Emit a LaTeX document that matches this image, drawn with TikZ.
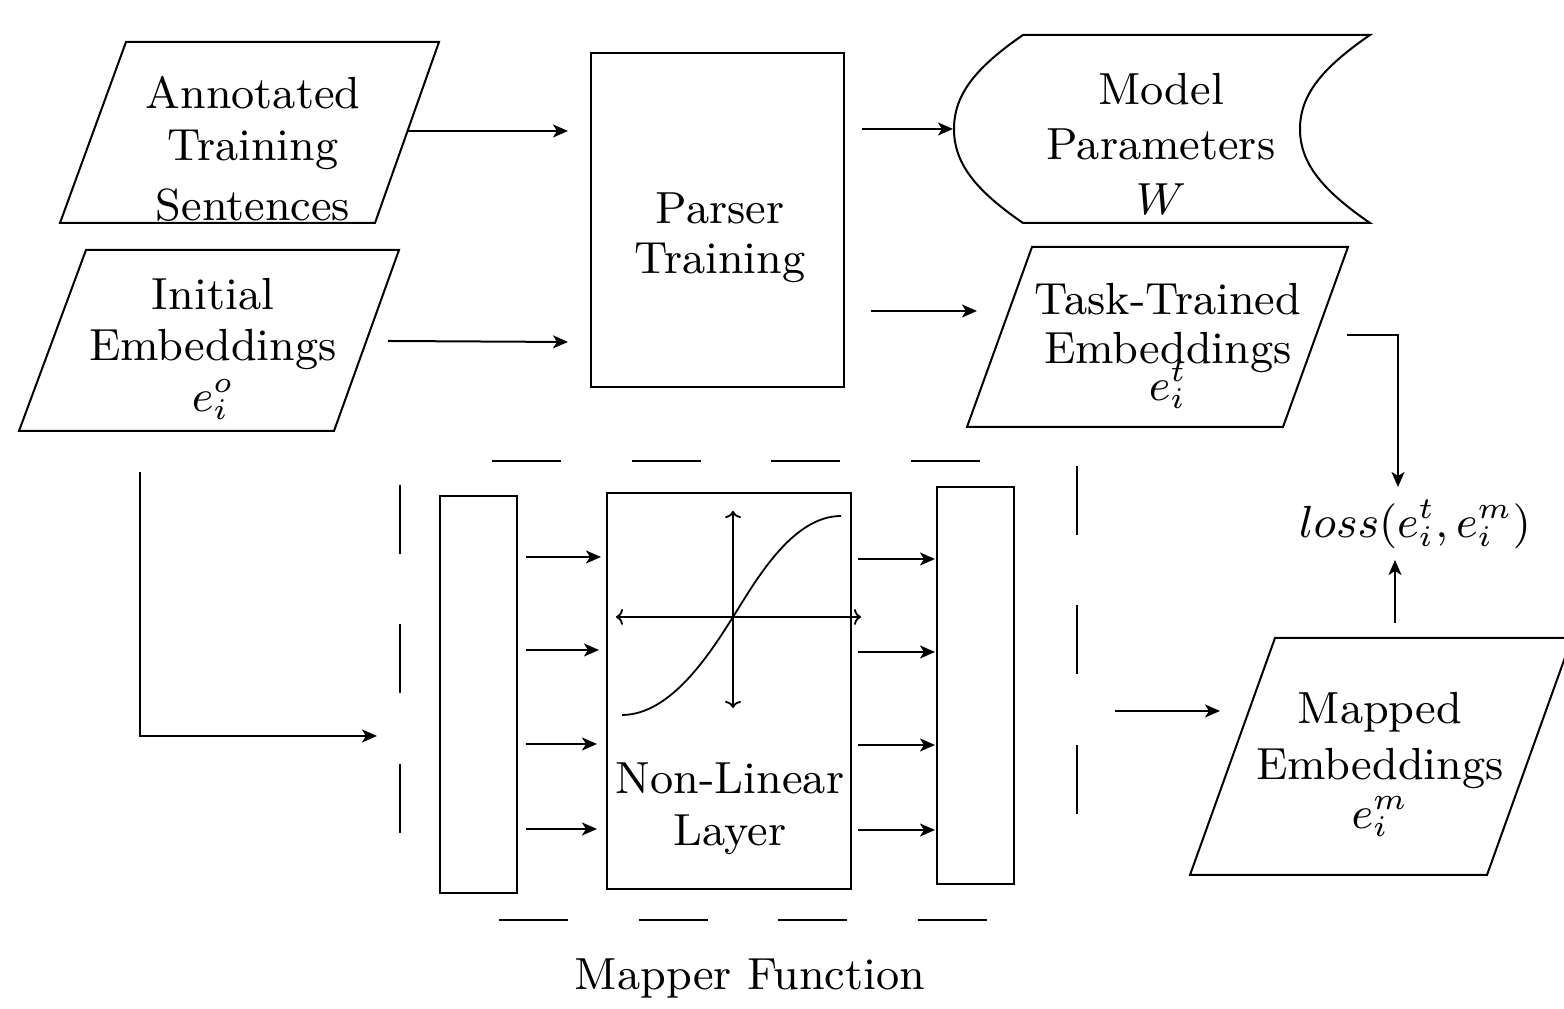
\documentclass[tikz,border=0pt]{standalone}
\usepackage{fontspec}
\usetikzlibrary{arrows.meta}

\begin{document}
\begin{tikzpicture}[x=0.2pt,y=-0.2pt,
  every node/.style={font=\fontsize{9}{10.2}\selectfont, inner sep=0pt, align=center},
  box/.style={draw, line width=0.4pt},
  arr/.style={-{Stealth[length=3pt,width=2.6pt,inset=0.8pt]}, line width=0.4pt},
  axis/.style={{To[length=1.4pt,width=3.2pt]}-{To[length=1.4pt,width=3.2pt]}, line width=0.36pt},
  mapdash/.style={dash pattern=on 13.8pt off 14.1pt, line width=0.44pt}]
\clip (0,0) rectangle (1564,1009);
\fill[white] (0,0) rectangle (1564,1009);

% ---- input data (parallelograms) ----
\draw[box] (126,42) -- (439,42) -- (375,223) -- (60,223) -- cycle;
\node[anchor=north] (annTxt) at (253,75) {Annotated\\[0.2pt]Training\\[1.8pt]Sentences};

\draw[box] (86,250) -- (399,250) -- (334,431) -- (19,431) -- cycle;
\node[anchor=north] (iniTxt) at (213,277) {Initial\\Embeddings\\$e_i^o$};

% ---- parser training ----
\draw[box] (591,53) rectangle (844,387);
\node[anchor=north] (parTxt) at (720,192) {Parser\\[-0.2pt]Training};

% ---- model parameters (stored data shape) ----
\draw[box] (1023,35) -- (1370,35)
  .. controls (1322,68) and (1300,95) .. (1300,129)
  .. controls (1300,163) and (1322,190) .. (1370,223)
  -- (1023,223)
  .. controls (975,190) and (954,163) .. (954,129)
  .. controls (954,95) and (975,68) .. (1023,35) -- cycle;
\node[anchor=north] (modTxt) at (1161,72) {Model\\[0.8pt]Parameters\\[0.8pt]$W$};

% ---- task-trained embeddings ----
\draw[box] (1032,247) -- (1348,247) -- (1283,427) -- (967,427) -- cycle;
\node[anchor=north] (taskTxt) at (1168,282) {Task-Trained\\[-0.4pt]Embeddings\\[-2.8pt]$e_i^t$};

% ---- loss ----
\node[anchor=base] (loss) at (1415,538) {$loss(e_i^t,e_i^m)$};

% ---- mapped embeddings ----
\draw[box] (1275,638) -- (1572,638) -- (1487,875) -- (1190,875) -- cycle;
\node[anchor=north] (mapTxt) at (1380,691) {Mapped\\[1pt]Embeddings\\[-0.4pt]$e_i^m$};

% ---- mapper function ----
\draw[mapdash] (492,461) -- (980,461);
\draw[mapdash] (499,920) -- (987,920);
\draw[mapdash] (400,485) -- (400,833);
\draw[mapdash] (1077,466) -- (1077,816);
\node[anchor=base] (mapperTxt) at (750,990) {Mapper Function};

\draw[box] (440,496) rectangle (517,893);
\draw[box] (607,493) rectangle (851,889);
\draw[box] (937,487) rectangle (1014,884);
\node[anchor=north] (nlTxt) at (730,762) {Non-Linear\\[0.2pt]Layer};

% sigmoid plot
\draw[axis] (616,617) -- (861,617);
\draw[axis] (733,511) -- (733,708);
\draw[line width=0.36pt] (622,715) .. controls (672,715) and (712,650) .. (733,617)
  .. controls (754,584) and (791,516) .. (841,516);

% layer-to-layer arrows
\foreach \y/\e [count=\k] in {557/601,650/599,744/597,829/597} {
  \coordinate (lIn\k) at (526,\y);
  \coordinate (lOut\k) at (\e,\y);
  \draw[arr] (lIn\k) -- (lOut\k);
}
\foreach \y [count=\k] in {559,652,745,830} {
  \coordinate (rIn\k) at (858,\y);
  \coordinate (rOut\k) at (935,\y);
  \draw[arr] (rIn\k) -- (rOut\k);
}

% ---- connectors ----
\coordinate (annOut) at (408,131);   \coordinate (parIn1) at (568,131);
\coordinate (iniOut) at (388,341);   \coordinate (parIn2) at (568,342);
\coordinate (parOut1) at (862,129);  \coordinate (modIn) at (953,129);
\coordinate (parOut2) at (871,311);  \coordinate (taskIn) at (977,311);
\coordinate (taskOut) at (1347,335); \coordinate (lossTop) at (1398,487);
\coordinate (mapOut) at (1395,623);  \coordinate (lossBot) at (1395,560);
\coordinate (iniDown) at (140,472);  \coordinate (mapperIn) at (377,736);
\coordinate (mapperOut) at (1115,711); \coordinate (mapIn) at (1220,711);

\draw[arr] (annOut) -- (parIn1);
\draw[arr] (iniOut) -- (parIn2);
\draw[arr] (parOut1) -- (modIn);
\draw[arr] (parOut2) -- (taskIn);
\draw[arr] (taskOut) -| (lossTop);
\draw[arr] (mapOut) -- (lossBot);
\draw[arr] (iniDown) |- (mapperIn);
\draw[arr] (mapperOut) -- (mapIn);
\end{tikzpicture}
\end{document}
